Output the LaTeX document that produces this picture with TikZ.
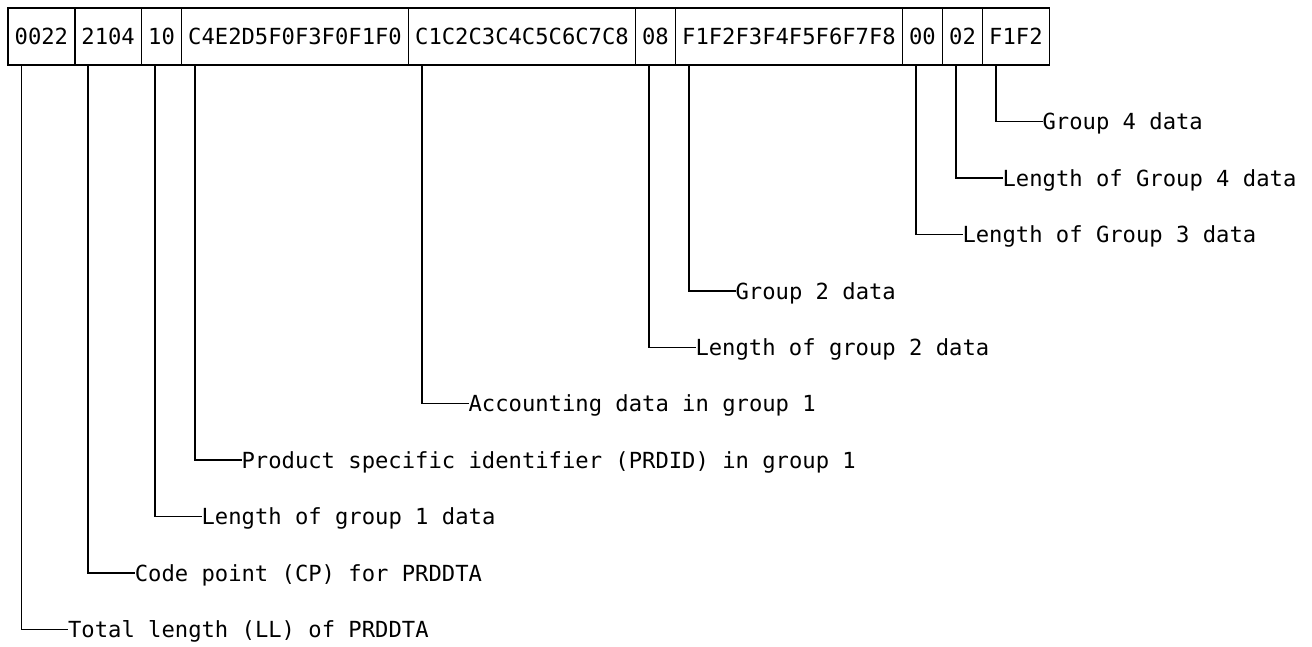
\documentclass[tikz,border=0pt]{standalone}
\usepackage{fontspec}
\newfontfamily\codefont{DejaVu Sans Mono}
\begin{document}
\begin{tikzpicture}[x=1pt,y=-1pt,
  cellbox/.style={draw, line width=1.5pt, inner sep=0pt, outer sep=0pt, minimum height=57pt, anchor=center,
    font=\codefont\fontsize{22.18pt}{26pt}\selectfont},
  lbl/.style={inner sep=0pt, outer sep=0pt, anchor=base west,
    font=\codefont\fontsize{22.18pt}{26pt}\selectfont},
  leader/.style={line width=1.5pt}]
\useasboundingbox (0,0) rectangle (1312,646);
% cells (x(j)=8+13.35 j)
\node[cellbox, minimum width=66.75pt]  (c1)  at (41.375,36.5)  {0022};
\node[cellbox, minimum width=66.75pt]  (c2)  at (108.125,36.5) {2104};
\node[cellbox, minimum width=40.05pt]  (c3)  at (161.525,36.5) {10};
\node[cellbox, minimum width=226.95pt] (c4)  at (295.025,36.5) {C4E2D5F0F3F0F1F0};
\node[cellbox, minimum width=226.95pt] (c5)  at (521.975,36.5) {C1C2C3C4C5C6C7C8};
\node[cellbox, minimum width=40.05pt]  (c6)  at (655.475,36.5) {08};
\node[cellbox, minimum width=226.95pt] (c7)  at (788.975,36.5) {F1F2F3F4F5F6F7F8};
\node[cellbox, minimum width=40.05pt]  (c8)  at (922.475,36.5) {00};
\node[cellbox, minimum width=40.05pt]  (c9)  at (962.525,36.5) {02};
\node[cellbox, minimum width=66.75pt]  (c10) at (1015.925,36.5) {F1F2};
% labels
\node[lbl] (l10) at (1042.6,129.8) {Group 4 data};
\node[lbl] (l9)  at (1002.6,186.2) {Length of Group 4 data};
\node[lbl] (l8)  at (962.5,242.6)  {Length of Group 3 data};
\node[lbl] (l7)  at (735.6,299.0)  {Group 2 data};
\node[lbl] (l6)  at (695.5,355.4)  {Length of group 2 data};
\node[lbl] (l5)  at (468.6,411.8)  {Accounting data in group 1};
\node[lbl] (l4)  at (241.6,468.2)  {Product specific identifier (PRDID) in group 1};
\node[lbl] (l3)  at (201.6,524.6)  {Length of group 1 data};
\node[lbl] (l2)  at (134.8,581.0)  {Code point (CP) for PRDDTA};
\node[lbl] (l1)  at (68.1,637.4)   {Total length (LL) of PRDDTA};
% leaders
\foreach \i in {1,...,10}{
  \draw[leader] ([xshift=13.35pt]c\i.south west) |- ([yshift=8.1pt]l\i.base west);
}
\end{tikzpicture}
\end{document}
